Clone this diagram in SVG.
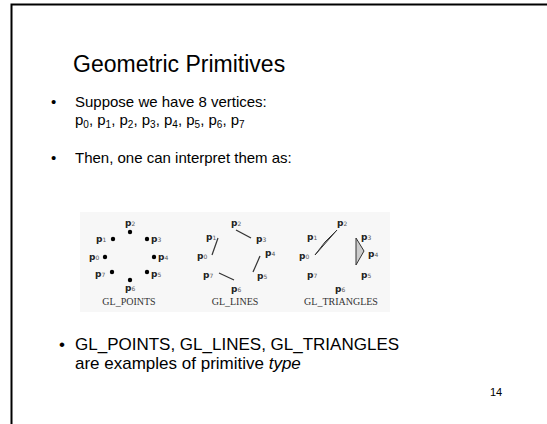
<svg xmlns="http://www.w3.org/2000/svg" width="547" height="424" viewBox="0 0 547 424">
<style>
text{font-family:"Liberation Sans",Arial,sans-serif;fill:#000}
.t{font-size:23px}
.b{font-size:15px}
.s{font-size:10px}
.b2{font-size:17px}
.lab{font-family:"DejaVu Sans",sans-serif;font-weight:bold;font-size:9px;fill:#222}
.sub{font-size:6px;font-weight:normal;fill:#555}
.cap{font-family:"Liberation Serif",serif;font-size:10px;fill:#333}
.ln{stroke:#333;stroke-width:1.2;fill:none}
</style>
<rect width="547" height="424" fill="#fff"/>
<path d="M11.5,424 V4.5 H547" fill="none" stroke="#000" stroke-width="2"/>
<text class="t" x="73" y="72">Geometric Primitives</text>
<text class="b" x="51" y="107">•</text>
<text class="b" x="75" y="107">Suppose we have 8 vertices:</text>
<text class="b" x="75" y="125">p<tspan class="s" dy="3">0</tspan><tspan dy="-3">, p</tspan><tspan class="s" dy="3">1</tspan><tspan dy="-3">, p</tspan><tspan class="s" dy="3">2</tspan><tspan dy="-3">, p</tspan><tspan class="s" dy="3">3</tspan><tspan dy="-3">, p</tspan><tspan class="s" dy="3">4</tspan><tspan dy="-3">, p</tspan><tspan class="s" dy="3">5</tspan><tspan dy="-3">, p</tspan><tspan class="s" dy="3">6</tspan><tspan dy="-3">, p</tspan><tspan class="s" dy="3">7</tspan></text>
<text class="b" x="51" y="163">•</text>
<text class="b" x="75" y="163">Then, one can interpret them as:</text>
<g id="figure">
<rect x="80" y="212" width="310" height="100" fill="#f7f7f7"/>
<g id="points">
<circle cx="130" cy="232" r="2.2"/><circle cx="113" cy="239" r="2.2"/><circle cx="147" cy="239" r="2.2"/>
<circle cx="105" cy="257" r="2.2"/><circle cx="154" cy="257" r="2.2"/>
<circle cx="112" cy="272" r="2.2"/><circle cx="147" cy="272" r="2.2"/><circle cx="130" cy="280" r="2.2"/>
<text class="lab" x="125" y="226">p<tspan class="sub">2</tspan></text>
<text class="lab" x="96" y="242">p<tspan class="sub">1</tspan></text>
<text class="lab" x="151" y="242">p<tspan class="sub">3</tspan></text>
<text class="lab" x="89" y="260">p<tspan class="sub">0</tspan></text>
<text class="lab" x="158" y="260">p<tspan class="sub">4</tspan></text>
<text class="lab" x="95" y="277">p<tspan class="sub">7</tspan></text>
<text class="lab" x="151" y="277">p<tspan class="sub">5</tspan></text>
<text class="lab" x="125" y="291">p<tspan class="sub">6</tspan></text>
<text class="cap" x="129" y="305" text-anchor="middle">GL_POINTS</text>
</g>
<g id="lines">
<line class="ln" x1="218" y1="238" x2="212" y2="255"/>
<line class="ln" x1="236" y1="230" x2="251" y2="238"/>
<line class="ln" x1="260" y1="256" x2="253" y2="272"/>
<line class="ln" x1="219" y1="273" x2="234" y2="280"/>
<text class="lab" x="231" y="226">p<tspan class="sub">2</tspan></text>
<text class="lab" x="206" y="240">p<tspan class="sub">1</tspan></text>
<text class="lab" x="256" y="242">p<tspan class="sub">3</tspan></text>
<text class="lab" x="197" y="259">p<tspan class="sub">0</tspan></text>
<text class="lab" x="265" y="256">p<tspan class="sub">4</tspan></text>
<text class="lab" x="203" y="278">p<tspan class="sub">7</tspan></text>
<text class="lab" x="257" y="279">p<tspan class="sub">5</tspan></text>
<text class="lab" x="231" y="292">p<tspan class="sub">6</tspan></text>
<text class="cap" x="235" y="305" text-anchor="middle">GL_LINES</text>
</g>
<g id="triangles">
<polygon points="337,230 315,255 325,242" fill="#ccc" stroke="#333" stroke-width="1"/>
<polygon points="356,238 356,265 364,251" fill="#ccc" stroke="#333" stroke-width="1"/>
<text class="lab" x="337" y="226">p<tspan class="sub">2</tspan></text>
<text class="lab" x="307" y="240">p<tspan class="sub">1</tspan></text>
<text class="lab" x="361" y="240">p<tspan class="sub">3</tspan></text>
<text class="lab" x="299" y="259">p<tspan class="sub">0</tspan></text>
<text class="lab" x="368" y="257">p<tspan class="sub">4</tspan></text>
<text class="lab" x="307" y="278">p<tspan class="sub">7</tspan></text>
<text class="lab" x="361" y="278">p<tspan class="sub">5</tspan></text>
<text class="lab" x="335" y="292">p<tspan class="sub">6</tspan></text>
<text class="cap" x="341" y="305" text-anchor="middle">GL_TRIANGLES</text>
</g>
</g>
<text class="b2" x="59" y="350">•</text>
<text class="b2" x="75" y="350">GL_POINTS, GL_LINES, GL_TRIANGLES</text>
<text class="b2" x="75" y="369">are examples of primitive <tspan font-style="italic">type</tspan></text>
<text x="490" y="396" font-size="11">14</text>
</svg>
